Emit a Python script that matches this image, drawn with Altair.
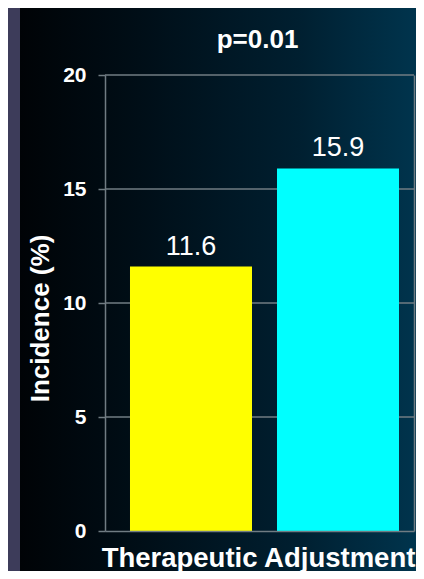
import altair as alt
import pandas as pd

# ---- data ----
groups = ["Group A", "Group B"]
values = [11.6, 15.9]
labels = ["11.6", "15.9"]
bar_colors = ["#ffff00", "#00ffff"]
y_ticks = [0, 5, 10, 15, 20]
grid_values = [5, 10, 15, 20]
title_text = "p=0.01"
x_title = "Therapeutic Adjustment"
y_title = "Incidence (%)"

df = pd.DataFrame({"group": groups, "value": values, "label": labels})
grid_df = pd.DataFrame({"v": grid_values})

FONT = "Liberation Sans"
GRAY = "#707c83"
W, H = 309, 456
PAD = {"left": 97, "top": 67, "right": 2, "bottom": 40}

yscale = alt.Scale(domain=[0, 20], nice=False, zero=True)
xscale = alt.Scale(domain=groups, paddingInner=0.17, paddingOuter=0.136, align=0.625)

x_axis = alt.Axis(labels=False, ticks=False, domain=True, domainColor=GRAY,
                  domainWidth=1.5, title=x_title, titleFont=FONT,
                  titleFontSize=27.5, titleFontWeight="bold", titleColor="white",
                  titleX=153, titleY=35, titleAlign="center",
                  titleBaseline="alphabetic", zindex=1)

# decorative dark gradient panel behind the plot
bg = alt.Chart(alt.Data(values=[{}])).mark_rect(
    fill=alt.LinearGradient(
        gradient="linear",
        stops=[
            alt.GradientStop(color="#000306", offset=0),
            alt.GradientStop(color="#000e17", offset=0.3),
            alt.GradientStop(color="#001f30", offset=0.7),
            alt.GradientStop(color="#00344d", offset=1),
        ],
        x1=0, x2=1, y1=0, y2=0,
    ),
).encode(
    x=alt.value(-85), x2=alt.value(W + PAD["right"]),
    y=alt.value(-PAD["top"]), y2=alt.value(H + PAD["bottom"]),
)

grid = alt.Chart(grid_df).mark_rule(color=GRAY, strokeWidth=1.5).encode(
    y=alt.Y("v:Q", scale=yscale,
            axis=alt.Axis(orient="right", labels=False, ticks=False, grid=False,
                          domain=True, domainColor=GRAY, domainWidth=1.5,
                          title=None, zindex=1)),
)

base = alt.Chart(df).encode(
    x=alt.X("group:N", scale=xscale, sort=groups, axis=x_axis),
)

bars = base.mark_bar().encode(
    y=alt.Y("value:Q", scale=yscale,
            axis=alt.Axis(values=y_ticks, grid=False, domain=True, domainColor=GRAY,
                          domainWidth=1.5, ticks=True, tickColor=GRAY, tickWidth=1.5,
                          tickSize=7, labelFont=FONT, labelFontSize=21,
                          labelFontWeight="bold", labelColor="white", labelPadding=12,
                          title=y_title, titleFont=FONT, titleFontSize=26,
                          titleFontWeight="bold", titleColor="white", titleAngle=-90,
                          titleX=-65, titleY=243, titleAlign="center",
                          titleBaseline="middle", zindex=1)),
    color=alt.Color("group:N", scale=alt.Scale(domain=groups, range=bar_colors), legend=None),
)

text = base.mark_text(
    font=FONT, fontSize=27, color="white", dy=-12, baseline="alphabetic", align="center"
).encode(
    y=alt.Y("value:Q", scale=yscale, axis=None),
    text="label:N",
)

chart = alt.layer(bg, grid, bars, text).resolve_scale(y="shared").resolve_axis(
    y="independent"
).properties(
    width=W,
    height=H,
    padding=PAD,
    autosize=alt.AutoSizeParams(type="none"),
    background="#3d3c5a",
    title=alt.TitleParams(
        title_text, font=FONT, fontSize=26, fontWeight="bold", color="white",
        anchor="middle", frame="group", offset=0, dy=66, dx=-2,
        baseline="alphabetic", zindex=1,
    ),
).configure_view(stroke=None)

chart.save("out.html", embed_options={"renderer": "svg", "actions": False})
